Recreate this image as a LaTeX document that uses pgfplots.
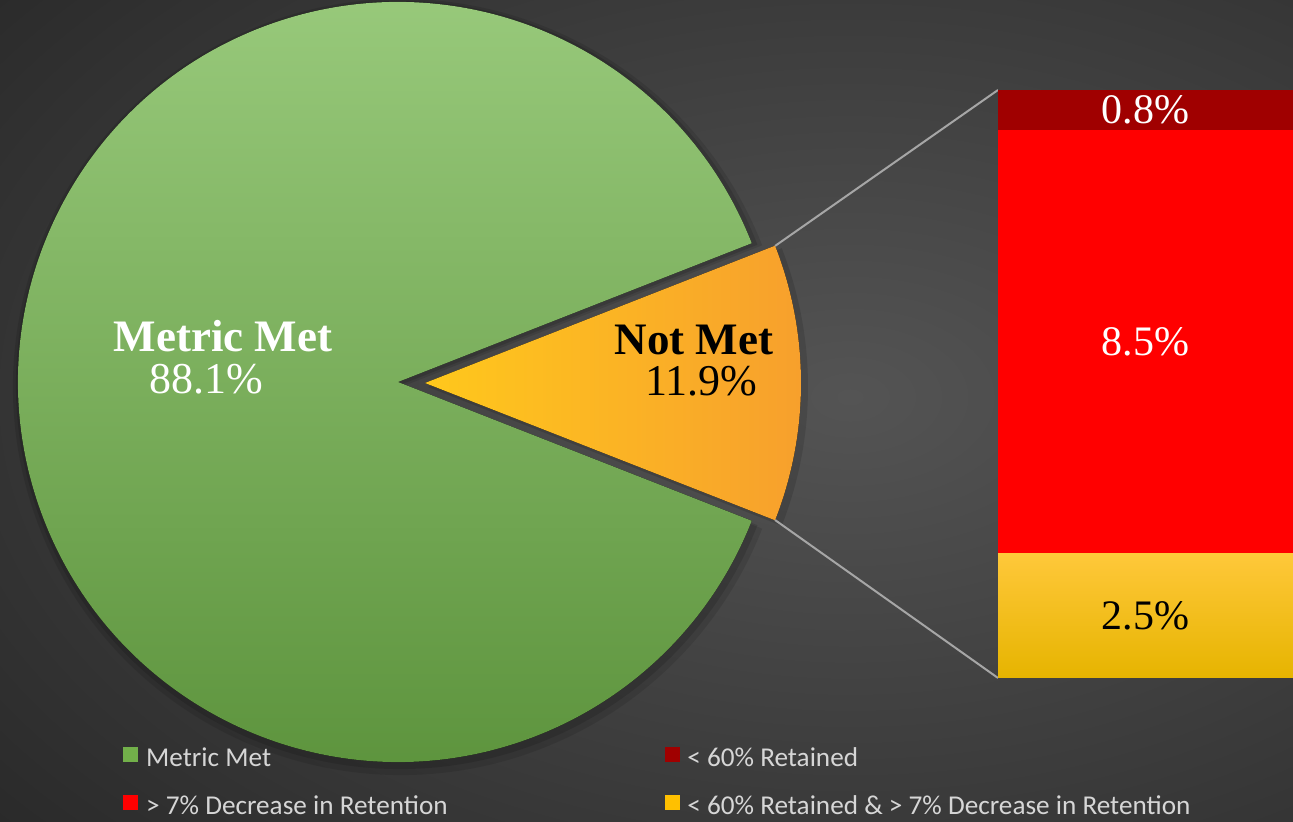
\documentclass[border=0pt]{standalone}
\usepackage{pgfplots}
\pgfplotsset{compat=1.18}
\usepackage{fontspec}
\setmainfont{Liberation Serif}
\newfontfamily\legfont{Carlito}
\definecolor{bgin}{HTML}{545454}
\definecolor{bgout}{HTML}{2A2A2A}
\definecolor{gtop}{HTML}{9BCC7E}
\definecolor{gbot}{HTML}{5A913A}
\definecolor{gleg}{HTML}{72B04A}
\definecolor{oleft}{HTML}{FFC81C}
\definecolor{oright}{HTML}{F79F2D}
\definecolor{barD}{HTML}{A00000}
\definecolor{barR}{HTML}{FF0000}
\definecolor{barYt}{HTML}{FFC83A}
\definecolor{barYb}{HTML}{E6B400}
\definecolor{legY}{HTML}{FFC000}
\definecolor{conn}{HTML}{A6A6A6}
\definecolor{legtxt}{HTML}{D6D6D6}
\def\valMet{88.1}
\def\valNot{11.9}
\pgfplotsset{baraxis/.style={at={(499pt,72pt)}, anchor=south west, scale only axis,
  width=147.5pt, height=294pt, xmin=0, xmax=1, ymin=0, ymax=11.8,
  hide axis, clip=false}}
\begin{document}
\begin{tikzpicture}
\useasboundingbox (0,0) rectangle (646.5pt,411pt);
\clip (0,0) rectangle (646.5pt,411pt);
\begin{axis}[at={(0,0)}, anchor=south west, x=0.5pt, y=0.5pt,
  xmin=0, xmax=1293, ymin=0, ymax=822, hide axis, clip=true,
  legend columns=2,
  legend style={at={(axis cs:123,76)}, anchor=north west, draw=none, fill=none,
    inner sep=0pt, text=legtxt, font=\legfont\fontsize{13.6pt}{16pt}\selectfont,
    nodes={inner sep=0pt, text height=10pt, text depth=3pt},
    row sep=11pt,
    /tikz/every odd column/.append style={column sep=4pt},
    /tikz/every even column/.append style={column sep=108.5pt}},
  legend cell align=left]
% background
\fill[inner color=bgin, outer color=bgout] (axis cs:-250,-250) rectangle (axis cs:1950,1100);
\pgfmathsetmacro{\halfang}{\valNot*3.6/2}
% soft shadows
\fill[black, opacity=0.10] (axis cs:401,435) -- ++(\halfang:194pt) arc[start angle=\halfang, end angle=360-\halfang, radius=194pt] -- cycle;
\fill[black, opacity=0.12] (axis cs:400,437) -- ++(\halfang:192pt) arc[start angle=\halfang, end angle=360-\halfang, radius=192pt] -- cycle;
\fill[black, opacity=0.12] (axis cs:428,435) -- ++(-\halfang:190pt) arc[start angle=-\halfang, end angle=\halfang, radius=190pt] -- cycle;
% Metric Met slice
\fill[top color=gtop, bottom color=gbot] (axis cs:398,440) -- ++(\halfang:190pt) arc[start angle=\halfang, end angle=360-\halfang, radius=190pt] -- cycle;
% Not Met slice (exploded)
\fill[left color=oleft, right color=oright] (axis cs:425,439) -- ++(-\halfang:188pt) arc[start angle=-\halfang, end angle=\halfang, radius=188pt] -- cycle;
% connector lines
\draw[conn, line width=1pt] (axis cs:775,576) -- (axis cs:998,732);
\draw[conn, line width=1pt] (axis cs:775,302) -- (axis cs:998,144);
% labels
\node[anchor=base, text=white, font=\bfseries\fontsize{22.5pt}{26pt}\selectfont] at (axis cs:223,470) {Metric Met};
\node[anchor=base, text=white, font=\fontsize{22pt}{26pt}\selectfont] at (axis cs:206,428) {88.1\%};
\node[anchor=base, text=black, font=\bfseries\fontsize{22.5pt}{26pt}\selectfont] at (axis cs:694,467) {Not Met};
\node[anchor=base, text=black, font=\fontsize{22pt}{26pt}\selectfont] at (axis cs:701,426) {11.9\%};
% legend
\addlegendimage{legend image code/.code={\fill[gleg] (0pt,-1pt) rectangle (7pt,6pt);}}
\addlegendentry{Metric Met}
\addlegendimage{legend image code/.code={\fill[barD] (0pt,-1pt) rectangle (7pt,6pt);}}
\addlegendentry{< 60\% Retained}
\addlegendimage{legend image code/.code={\fill[barR] (0pt,-1pt) rectangle (7pt,6pt);}}
\addlegendentry{> 7\% Decrease in Retention}
\addlegendimage{legend image code/.code={\fill[legY] (0pt,-1pt) rectangle (7pt,6pt);}}
\addlegendentry{< 60\% Retained \& > 7\% Decrease in Retention}
\end{axis}
\begin{axis}[baraxis, ybar stacked, bar width=147.5pt]
\addplot[draw=none, top color=barYt, bottom color=barYb] coordinates {(0.5,2.5)};
\addplot[draw=none, fill=barR] coordinates {(0.5,8.5)};
\addplot[draw=none, fill=barD] coordinates {(0.5,0.8)};
\end{axis}
\begin{axis}[baraxis]
\node[text=black, font=\fontsize{21pt}{25pt}\selectfont] at (axis cs:0.5,1.25) {2.5\%};
\node[text=white, font=\fontsize{21pt}{25pt}\selectfont] at (axis cs:0.5,6.75) {8.5\%};
\node[text=white, font=\fontsize{21pt}{25pt}\selectfont] at (axis cs:0.5,11.4) {0.8\%};
\end{axis}
\end{tikzpicture}
\end{document}
